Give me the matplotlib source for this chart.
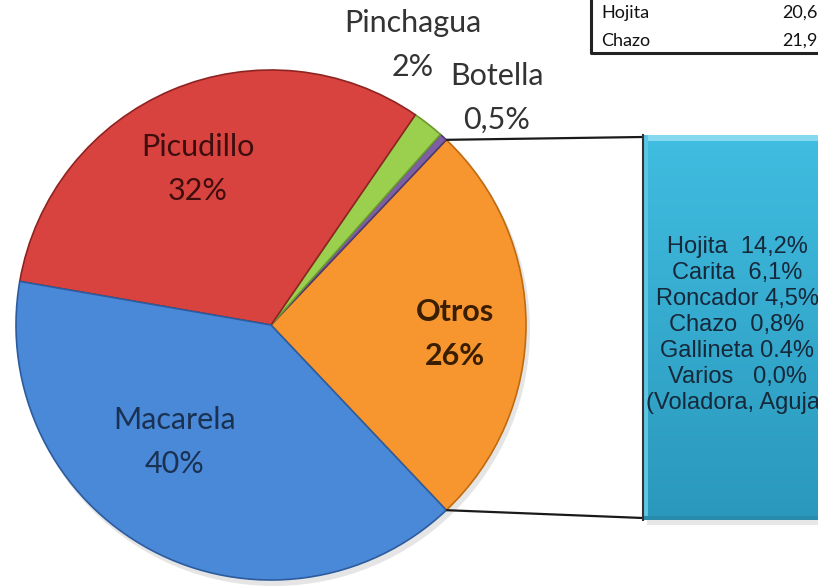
import numpy as np
import matplotlib
matplotlib.use("Agg")
import matplotlib.pyplot as plt
from matplotlib.patches import Rectangle, Circle

# ── data ───────────────────────────────────────────────────────────────
species = ["Otros", "Botella", "Pinchagua", "Picudillo", "Macarela"]
shares = [26, 0.5, 2, 32, 40]
share_labels = ["26%", "0,5%", "2%", "32%", "40%"]
slice_colors = ["#F7962F", "#7D5FA3", "#9BCF4E", "#D8433F", "#4A88D8"]
edge_colors = ["#C06A10", "#4E3A70", "#6C9A2C", "#8E2422", "#2D5C9E"]
label_colors = ["#3A1E00", "#333333", "#333333", "#3E0E0E", "#1B3152"]

otros_detail = ["Hojita  14,2%", "Carita  6,1%", "Roncador 4,5%", "Chazo  0,8%",
                "Gallineta 0.4%", "Varios   0,0%", "(Voladora, Aguja)"]

table_names = ["Hojita", "Chazo"]
table_values = ["20,6", "21,9"]

W, H = 818, 587
fig = plt.figure(figsize=(W / 100, H / 100), dpi=100)
ax = fig.add_axes([0, 0, 1, 1])

# ── pie ────────────────────────────────────────────────────────────────
cx, cy, r = 271, 325, 255
# soft shadow under the pie
ax.add_patch(Circle((cx + 3, cy + 5), r + 1, facecolor="#D5D5D5",
                    edgecolor="none", alpha=0.6, zorder=0))
otros_span = shares[0] / sum(shares) * 360
wedges, _ = ax.pie(shares, colors=slice_colors, center=(cx, cy), radius=r,
                   startangle=otros_span / 2, counterclock=False,
                   wedgeprops=dict(linewidth=1.2))
for w, ec in zip(wedges, edge_colors):
    w.set_edgecolor(ec)
    w.set_zorder(1)

# label positions (image pixel coords)
label_pos = {
    "Otros": (455, 334),
    "Botella": (497, 98),
    "Pinchagua": (413, 45),
    "Picudillo": (198, 169),
    "Macarela": (175, 442),
}
for name, pct, col in zip(species, share_labels, label_colors):
    x, y = label_pos[name]
    bold = name == "Otros"
    ax.text(x, y, f"{name}\n{pct}", ha="center", va="center", fontsize=22,
            family="Lato", color=col, fontweight="bold" if bold else "normal",
            linespacing=1.68)

# ── connector lines from the "Otros" slice to the detail box ──────────
box_x0, box_x1, box_y0, box_y1 = 643, 830, 135, 520
w0 = wedges[0]
for ang, by in [(w0.theta1, box_y0 + 2), (w0.theta2, box_y1 - 2)]:
    px = cx + r * np.cos(np.radians(ang))
    py = cy + r * np.sin(np.radians(ang))
    ax.plot([px, box_x0], [py, by], color="#1A1A1A", lw=1.6, zorder=3,
            solid_capstyle="butt")

# ── detail box ────────────────────────────────────────────────────────
ax.add_patch(Rectangle((box_x0 + 4, box_y0 + 5), box_x1 - box_x0, box_y1 - box_y0,
                       facecolor="#D0D0D0", edgecolor="none", alpha=0.5, zorder=2))
grad = np.linspace(0, 1, 200)[:, None]
top = np.array([0x40, 0xBD, 0xE0]) / 255
bot = np.array([0x2A, 0x98, 0xBC]) / 255
img = top[None, None, :] * (1 - grad[..., None]) + bot[None, None, :] * grad[..., None]
ax.imshow(img, extent=[box_x0, box_x1, box_y1, box_y0], aspect="auto", zorder=3)
ax.add_patch(Rectangle((box_x0, box_y0), box_x1 - box_x0, 6,
                       facecolor="#86D8EE", edgecolor="none", zorder=4))
ax.add_patch(Rectangle((box_x0, box_y0), 5, box_y1 - box_y0,
                       facecolor="#5CC6E4", edgecolor="none", zorder=4))
ax.add_patch(Rectangle((box_x0, box_y1 - 4), box_x1 - box_x0, 4,
                       facecolor="#2A8CAD", edgecolor="none", zorder=4))
ax.plot([box_x0, box_x0], [box_y0, box_y1], color="#333333", lw=1.5, zorder=5)

ax.text(737, 325, "\n".join(otros_detail), ha="center", va="center",
        fontsize=17, family="Liberation Sans", color="#16283A",
        linespacing=1.24, zorder=6)

# ── table fragment (top right) ────────────────────────────────────────
ax.plot([591, 591, 830], [-5, 53, 53], color="#222222", lw=2.2, zorder=5)
for i, (nm, val) in enumerate(zip(table_names, table_values)):
    y = 13 + i * 28
    ax.text(601, y, nm, ha="left", va="center", fontsize=13, family="Lato",
            color="#111111")
    ax.text(782, y, val, ha="left", va="center", fontsize=13, family="Lato",
            color="#111111")

ax.set_xlim(0, W)
ax.set_ylim(H, 0)
ax.set_aspect("auto")
ax.axis("off")

fig.savefig("out.png", dpi=100)
